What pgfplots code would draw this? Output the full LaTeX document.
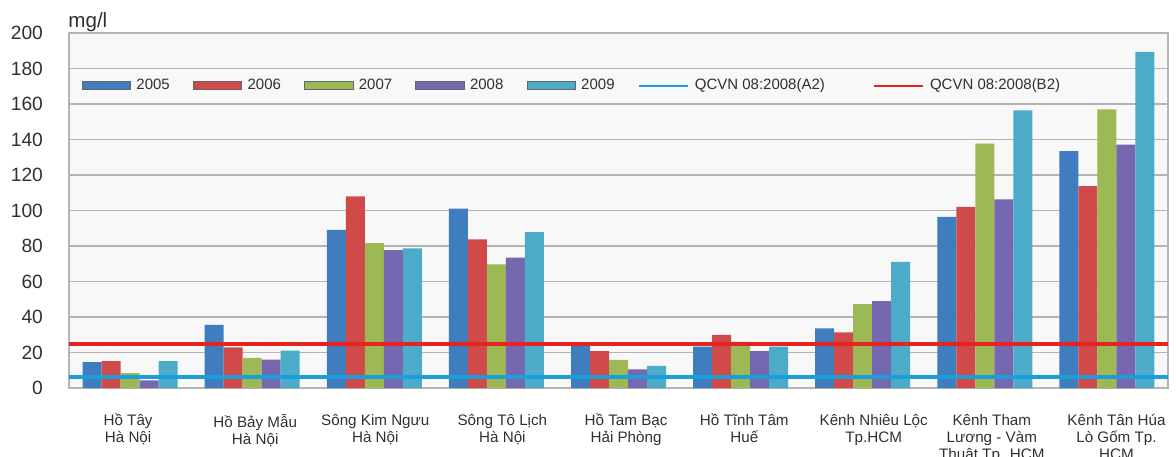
\documentclass[border=0pt]{standalone}
\usepackage{pgfplots}
\pgfplotsset{compat=1.18}
\usepackage{fontspec}
\setmainfont{Liberation Sans}

\definecolor{c2005}{HTML}{3F7DBF}
\definecolor{c2006}{HTML}{D04A4A}
\definecolor{c2007}{HTML}{9CB955}
\definecolor{c2008}{HTML}{7667B1}
\definecolor{c2009}{HTML}{4BABC8}
\definecolor{cA2}{HTML}{1A9FDB}
\definecolor{cB2}{HTML}{E52321}
\definecolor{plotbg}{HTML}{F7F8F7}
\definecolor{framec}{HTML}{B4B4B4}
\definecolor{txt}{HTML}{303030}

\pgfplotsset{
  barswatch/.style={legend image code/.code={%
    \draw[##1, draw=black!60, line width=0.4pt] (0pt,-2pt) rectangle (24.2pt,2pt);}},
  lineswatch/.style={legend image code/.code={%
    \draw[##1, line width=1.3pt] (0pt,0pt) -- (24.5pt,0pt);}},
}

\begin{document}
\begin{tikzpicture}
\useasboundingbox (0,0) rectangle (588pt,228pt);
\begin{axis}[
  at={(34.5pt,34pt)}, anchor=south west,
  scale only axis,
  width=549.5pt, height=177.5pt,
  xmin=-0.5, xmax=8.5,
  ymin=0, ymax=200,
  clip mode=individual,
  ytick={0,20,...,200},
  xtick={-0.016,1.025,2.008,3.049,4.062,5.03,6.09,7.057,8.078},
  xticklabels={
    {Hồ Tây\\Hà Nội},
    {Hồ Bảy Mẫu\\Hà Nội},
    {Sông Kim Ngưu\\Hà Nội},
    {Sông Tô Lịch\\Hà Nội},
    {Hồ Tam Bạc\\Hải Phòng},
    {Hồ Tĩnh Tâm\\Huế},
    {Kênh Nhiêu Lộc\\Tp.HCM},
    {Kênh Tham\\Lương - Vàm\\Thuật Tp. HCM},
    {Kênh Tân Húa\\Lò Gốm Tp.\\HCM}},
  major tick length=0pt,
  ymajorgrids,
  grid style={draw=framec, line width=0.6pt},
  axis line style={draw=framec, line width=0.6pt},
  axis background/.style={fill=plotbg},
  /pgf/number format/assume math mode=true,
  yticklabel style={anchor=east, inner sep=0pt, xshift=-12.85pt,
    font=\fontsize{9.6}{11}\selectfont, text=txt},
  xticklabel style={anchor=north, inner sep=0pt, yshift=-12.8pt, align=center,
    font=\fontsize{7.6}{8.6}\selectfont, text=txt},
  legend columns=7,
  legend cell align=left,
  legend style={draw=none, fill=none, inner sep=0pt, outer sep=0pt,
    at={(rel axis cs:0.0116,0.851)}, anchor=west,
    column sep=2.75pt,
    nodes={inner sep=0pt, anchor=west, text=txt,
      font=\fontsize{7.5}{9}\selectfont}},
]
% BOD5 per site, 2005-2009
\addplot[ybar, bar width=0.1556, bar shift=-0.3112, fill=c2005, draw=none, barswatch]
  coordinates {(0,14.6) (1,35.5) (2,89.1) (3,101.1) (4,24.2) (5,23.3) (6,33.6) (7,96.4) (8,133.5)};
\addlegendentry{\makebox[25.5pt][l]{2005}}
\addplot[ybar, bar width=0.1556, bar shift=-0.1556, fill=c2006, draw=none, barswatch]
  coordinates {(0,15.2) (1,22.9) (2,108.0) (3,83.8) (4,20.8) (5,30.0) (6,31.3) (7,102.0) (8,113.7)};
\addlegendentry{\makebox[25.5pt][l]{2006}}
\addplot[ybar, bar width=0.1556, bar shift=0, fill=c2007, draw=none, barswatch]
  coordinates {(0,8.4) (1,17.0) (2,81.6) (3,69.6) (4,15.8) (5,26.0) (6,47.3) (7,137.7) (8,157.0)};
\addlegendentry{\makebox[25.5pt][l]{2007}}
\addplot[ybar, bar width=0.1556, bar shift=0.1556, fill=c2008, draw=none, barswatch]
  coordinates {(0,4.3) (1,16.0) (2,77.7) (3,73.5) (4,10.5) (5,20.8) (6,49.0) (7,106.2) (8,137.1)};
\addlegendentry{\makebox[25.5pt][l]{2008}}
\addplot[ybar, bar width=0.1556, bar shift=0.3112, fill=c2009, draw=none, barswatch]
  coordinates {(0,15.2) (1,21.0) (2,78.6) (3,87.8) (4,12.4) (5,23.3) (6,71.1) (7,156.4) (8,189.3)};
\addlegendentry{\makebox[25.5pt][l]{2009}}
% standard limits
\addplot[sharp plot, draw=cA2, line width=2pt, lineswatch]
  coordinates {(-0.5,6) (8.5,6)};
\addlegendentry{\makebox[86.3pt][l]{QCVN 08:2008(A2)}}
\addplot[sharp plot, draw=cB2, line width=2pt, lineswatch]
  coordinates {(-0.5,25) (8.5,25)};
\addlegendentry{QCVN 08:2008(B2)}
\node[anchor=base west, inner sep=0pt, text=txt, font=\fontsize{10.3}{12}\selectfont]
  at (rel axis cs:0,1) [xshift=-0.5pt, yshift=3pt] {mg/l};
\end{axis}
\end{tikzpicture}
\end{document}
